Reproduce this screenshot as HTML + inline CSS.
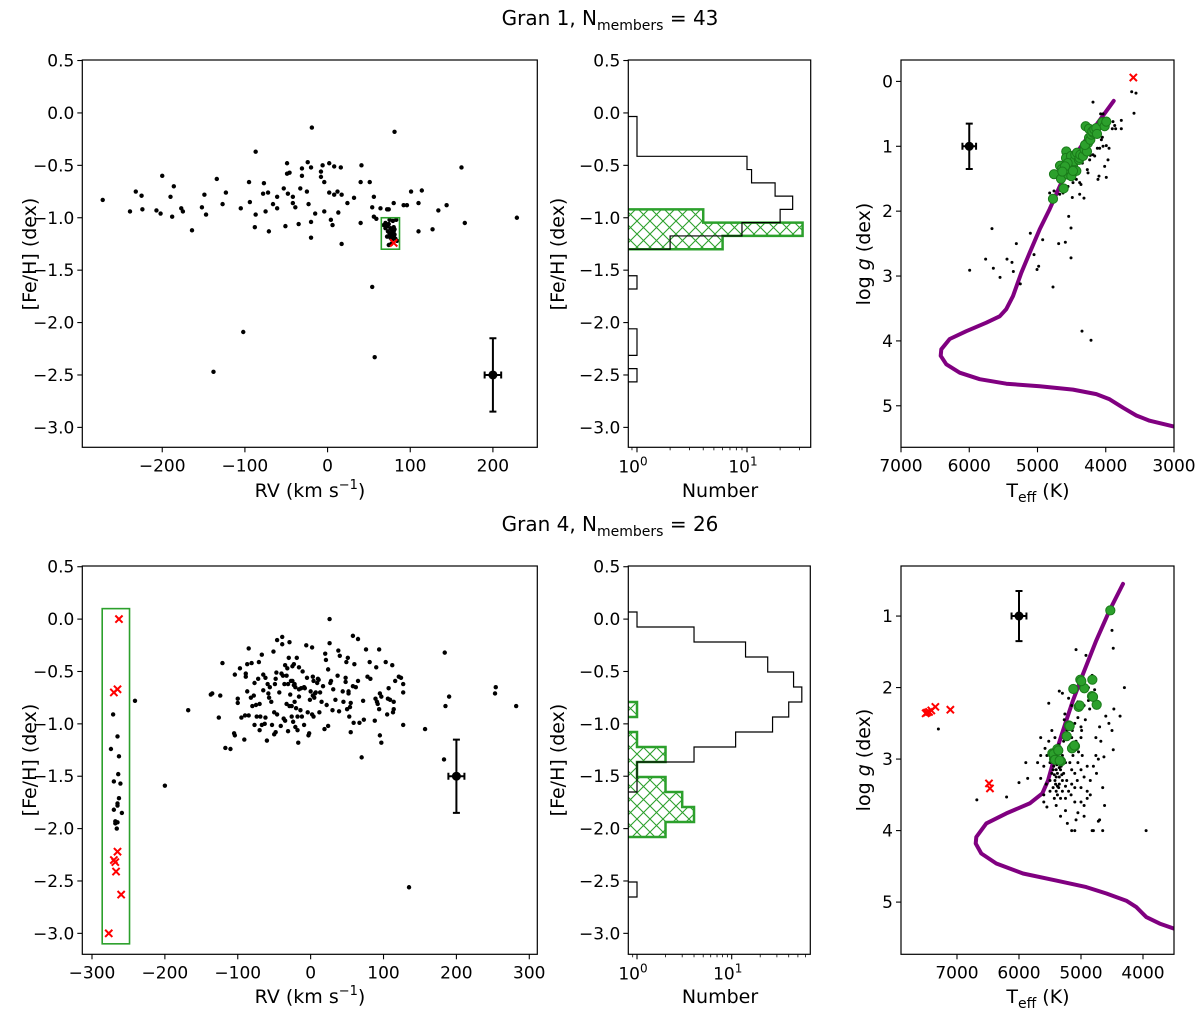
<!DOCTYPE html>
<html><head><meta charset="utf-8">
<style>
html,body{margin:0;padding:0;background:#fff;}
svg{display:block;font-family:"DejaVu Sans","Liberation Sans",sans-serif;}
</style></head>
<body>
<svg id="fig" width="1200" height="1010" viewBox="0 0 1200 1010" xmlns="http://www.w3.org/2000/svg">
<defs>
<pattern id="hatch" patternUnits="userSpaceOnUse" width="13" height="13">
<path d="M0,0 L13,13 M13,0 L0,13 M-1,12 L1,14 M12,-1 L14,1" stroke="#2ca02c" stroke-width="1.1" fill="none"/>
</pattern>
</defs>
<text x="610" y="25" text-anchor="middle" font-size="20">Gran 1, N<tspan font-size="14" dy="5">members</tspan><tspan dy="-5"> = 43</tspan></text>
<text x="610" y="531" text-anchor="middle" font-size="20">Gran 4, N<tspan font-size="14" dy="5">members</tspan><tspan dy="-5"> = 26</tspan></text>
</svg>
<script>
// ===== DATA: Gran 1 =====
const g1RV = [-272,-239,-232,-225,-224,-207,-202,-200,-190,-188,-186,-177,-175,-164,-152,-149,-147,-134,-127,-123,-105,-95,-94,-87,-87,-88,-78,-77,-75,-72,-71,-66,-61,-61,-53,-51,-49,-49,-48,-46,-42,-42,-39,-35,-33,-31,-31,-25,-24,-23,-20,-20,-20,-19,-15,-8,-8,-6,-4,-4,2,2,4,6,8,8,12,13,16,17,17,24,32,40,40,41,51,54,54,56,56,57,59,64,72,74,80,81,92,96,101,110,110,114,127,134,144,162,166,229,-102,-138,
70,72,74,76,78,80,73,75,77,79,81,76,78,80,82,74,77,70,83,79,84,72,81,75,68,78,80];
const g1Fe = [-0.83,-0.94,-0.75,-0.79,-0.92,-0.93,-0.96,-0.60,-0.80,-0.99,-0.70,-0.91,-0.94,-1.12,-0.90,-0.78,-0.97,-0.63,-0.87,-0.76,-0.91,-0.66,-0.85,-0.37,-0.97,-1.09,-0.77,-0.67,-0.94,-0.76,-1.13,-0.87,-0.80,-0.91,-0.72,-1.08,-0.48,-0.58,-0.77,-0.57,-0.80,-0.86,-0.90,-1.06,-0.72,-0.60,-0.53,-0.75,-0.47,-0.87,-0.52,-1.04,-1.19,-0.14,-0.96,-0.56,-0.61,-0.50,-0.66,-0.94,-0.48,-0.76,-1.02,-1.07,-0.51,-0.78,-0.75,-0.95,-0.52,-0.78,-1.25,-0.86,-0.81,-1.05,-0.66,-0.50,-0.66,-1.66,-0.90,-0.80,-0.99,-2.33,-1.01,-0.91,-0.92,-0.92,-0.86,-0.18,-0.88,-0.88,-0.75,-1.13,-0.86,-0.74,-1.11,-0.93,-0.88,-0.52,-1.05,-1.00,-2.09,-2.47,
-1.05,-1.08,-1.06,-1.10,-1.12,-1.09,-1.13,-1.15,-1.17,-1.14,-1.16,-1.19,-1.21,-1.18,-1.20,-1.26,-1.25,-1.10,-1.02,-1.03,-1.22,-1.18,-1.11,-1.02,-1.07,-1.15,-1.13];
const g1RejRV = [80];
const g1RejFe = [-1.24];
const g1Box = [65, 87, -1.30, -1.00];
const g1HistStart = -0.034;
const g1HistWidth = 0.1266;
const g1HistAll = [1,1,1,10,11,18,26,20,9,2,0,0,1,0,0,0,1,1,0,1];
const g1HistMem = [0,0,0,0,0,0,0,4,32,6];
const g1StarT = [5994,5667,5760,5647,5549,5447,5374,5354,5310,5252,5105,5051,5007,4983,4924,4773,4690,4592,4543,4509,4509,4348,4216,4822,4758,4675,4490,4382,4319,4382,4363,4260,4270,4226,4187,4114,4099,3992,4016,4123,4089,4040,3992,3952,3967,4064,4050,4187,4075,4040,3894,3869,3855,3904,3772,3772,3620,3557,3586,4294,4431,4343,4236,4162,4480,4553,4626,4431];
const g1StarG = [2.91,2.27,2.74,2.88,3.02,2.74,2.79,2.93,2.50,3.12,2.34,2.67,2.90,2.85,2.44,3.17,2.50,2.48,2.08,2.26,2.72,3.85,3.99,1.72,1.69,1.74,1.79,1.74,1.80,1.56,1.59,1.41,1.36,1.14,1.13,1.51,1.46,1.48,1.31,1.03,1.03,1.00,0.99,1.03,1.21,0.90,0.86,0.32,0.50,0.50,0.62,0.68,0.73,0.73,0.60,0.73,0.16,0.18,0.49,1.15,1.28,1.26,1.21,1.15,1.56,1.62,1.72,1.51];
const g1MemT = [4773,4758,4617,4656,4670,4641,4578,4582,4548,4519,4529,4504,4509,4480,4465,4446,4421,4392,4382,4372,4333,4309,4275,4260,4304,4245,4226,4211,4187,4294,4245,4197,4167,4138,4128,4050,4016,3992,4431,4480,4558,4597,4636];
const g1MemG = [1.81,1.43,1.65,1.50,1.30,1.35,1.08,1.18,1.44,1.26,1.36,1.46,1.15,1.31,1.23,1.13,1.10,1.21,1.18,1.13,1.15,1.05,1.08,0.95,0.98,0.87,0.90,0.82,0.79,0.69,0.73,0.77,0.74,0.72,0.81,0.63,0.69,0.62,1.38,1.38,1.26,1.31,1.39];
const g1RejT = [3596];
const g1RejG = [-0.06];
const g1IsoT = [3884,4187,4480,4675,4822,4968,5115,5237,5359,5457,5554,5750,6043,6287,6409,6419,6336,6140,5847,5457,4968,4480,4138,3943,3747,3552,3357,3000];
const g1IsoG = [0.30,0.74,1.18,1.62,1.97,2.28,2.64,2.95,3.31,3.51,3.62,3.72,3.85,3.97,4.13,4.23,4.36,4.49,4.59,4.66,4.70,4.75,4.82,4.90,5.03,5.15,5.23,5.32];

// ===== DATA: Gran 4 =====
const g4RV = [-271,-274,-265,-263,-264,-270,-261,-263,-265,-265,-270,-259,-268,-265,-268,-266,-241,-200,-168,135,184,190,185,183,157,253,254,282,70,26,
-137,-135,-124,-121,-126,-117,-110,-105,-104,-104,-100,-100,-97,-95,-91,-90,-89,-89,-87,-87,-85,-85,-81,-82,-80,-78,-77,-77,-75,-74,-72,-71,-70,-70,-69,-67,-67,-65,-65,-63,-62,-62,-60,-59,-58,-57,-56,-54,-53,-51,-50,-50,-49,-48,-48,-47,-46,-46,-43,-41,-40,-39,-39,-38,-37,-36,-35,-35,-33,-33,-32,-31,-31,-30,-29,-29,-28,-27,-26,-26,-25,-25,-24,-23,-23,-22,-22,-21,-21,-20,-19,-18,-18,-17,-16,-16,-16,-14,-13,-12,-11,-9,-9,-8,-6,-5,-4,-3,-2,-1,0,2,2,3,3,4,4,5,6,7,9,10,11,12,13,15,17,19,20,21,22,24,24,26,27,28,30,31,34,37,38,39,40,44,45,48,48,49,50,51,52,52,53,54,55,55,58,58,59,60,62,65,65,67,72,73,76,78,81,82,88,89,90,91,92,94,94,95,95,97,97,103,105,106,107,109,112,113,114,114,116,121,124,127,127,127];
const g4Fe = [-0.91,-1.24,-1.12,-1.31,-1.48,-1.55,-1.57,-1.71,-1.76,-1.78,-1.82,-1.85,-1.93,-1.94,-1.95,-2.00,-0.78,-1.59,-0.87,-2.56,-0.32,-0.74,-0.83,-1.34,-1.05,-0.71,-0.65,-0.83,-1.32,0.00,
-0.72,-0.71,-0.73,-0.42,-0.94,-1.23,-1.24,-1.09,-1.11,-0.53,-0.76,-0.80,-0.47,-0.94,-1.15,-0.92,-0.52,-0.55,-0.43,-0.69,-0.28,-0.92,-0.42,-0.75,-0.83,-0.73,-0.61,-1.01,-0.82,-0.93,-0.57,-0.41,-1.06,-0.81,-0.93,-0.34,-1.01,-0.53,-0.68,-1.00,-0.94,-0.56,-1.16,-0.62,-0.71,-0.75,-0.65,-0.79,-1.01,-0.31,-0.89,-1.10,-0.62,-1.08,-0.57,-0.51,-0.20,-0.91,-0.70,-1.02,-0.52,-0.24,-0.17,-0.54,-0.95,-0.62,-0.97,-0.44,-0.54,-0.81,-0.47,-1.07,-0.62,-0.37,-0.22,-0.83,-0.72,-0.59,-0.93,-0.83,-0.45,-0.59,-0.98,-0.43,-0.63,-0.79,-0.62,-0.65,-1.03,-0.85,-0.37,-1.06,-0.93,-1.18,-0.46,-0.74,-0.67,-0.87,-0.66,-0.93,-0.50,-0.65,-1.01,-0.66,-0.25,-0.56,-0.89,-1.11,-1.09,-0.77,-0.69,-0.27,-0.91,-0.55,-0.73,-0.93,-0.59,-0.75,-0.71,-0.70,-0.61,-0.57,-0.58,-0.89,-0.70,-0.79,-0.64,-1.05,-0.33,-0.39,-0.82,-0.48,-1.02,-0.23,-0.61,-0.59,-0.87,-0.67,-0.77,-0.54,-0.30,-0.88,-0.35,-0.69,-0.79,-0.60,-0.56,-0.41,-0.86,-0.37,-0.69,-0.71,-0.93,-0.84,-0.80,-1.08,-0.64,-0.16,-0.99,-0.43,-0.65,-0.19,-0.59,-0.99,-0.78,-0.96,-0.29,-0.55,-0.41,-0.57,-0.97,-0.76,-0.46,-0.79,-0.81,-0.29,-0.86,-0.71,-1.11,-1.18,-0.74,-0.41,-0.91,-0.76,-0.66,-0.77,-0.44,-0.89,-0.86,-0.79,-0.59,-0.55,-0.56,-1.01,-0.62,-0.70];
const g4RejRV = [-263,-270,-265,-265,-270,-268,-267,-260,-277];
const g4RejFe = [0.0,-0.70,-0.67,-2.22,-2.30,-2.32,-2.41,-2.63,-3.0];
const g4Box = [-286, -248.5, -3.10, 0.10];
const g4HistStart = 0.068;
const g4HistWidth = 0.1432;
const g4HistAll = [1,4,14,24,45,55,40,27,11,4,1,1,0,0,0,0,0,0,1];
const g4HistMem = [0,0,0,0,0,0,1,0,1,2,1,2,3,4,2];
const g4StarT = [7300,6680,6200,6000,5860,5890,4480,4370,4300,3950,4500,4480,4800,4820,4920,5080,4780,4860,4600,4550,4500,4470,4700,4680,4630,4760,4720,4650,4620,4700,4720,4800,4820,4650,4900,4950,5000,4950,5100,5080,5050,5250,5330,5400,5550,5600,5650,5700,5650,5520,5350,5300,5200,5150,5260,5270,5230,5100,5050,5000,4990,5000,5040,4980,4900,4850,4900,4950,5000,5050,5100,5150,5200,5250,5300,5350,5400,5450,5500,5550,5600,5500,5450,5380,5320,5280,5230,5180,5130,5360,5420,5470,5400,5380,5350,5330,5300,5420,5440,5460,5520,5580,5650,5560,5600,5200,5150,5080,5160,5100,5060,5000,5220,5150,5100,4880,4880,4760,4800,4850,4750,5380,5400,5410,5360,5250,5300,5470,5420,5360,5280,5200,5140,5250,5330,5430,5500,5150,5050,4950,4930,5430,5390,5350,5310];
const g4StarG = [2.58,3.57,3.53,3.33,3.27,3.05,2.87,2.40,2.00,4.00,1.20,1.45,1.85,1.83,1.55,1.47,2.03,2.30,2.40,2.50,2.60,2.30,2.55,2.75,2.97,2.70,3.00,3.40,3.65,3.85,3.87,4.00,4.00,4.00,3.55,3.65,3.60,3.80,3.60,3.85,3.75,3.72,3.80,3.65,3.67,3.50,3.27,3.05,2.95,2.22,2.05,2.08,2.15,2.25,2.37,2.45,2.60,2.50,2.42,2.55,2.60,2.70,2.90,2.95,3.10,3.30,3.45,3.25,3.15,3.05,3.20,3.35,3.45,3.55,3.45,3.35,3.25,3.15,3.05,2.95,3.10,3.30,3.40,3.50,3.10,3.20,3.30,3.05,2.95,3.00,3.05,3.20,3.15,3.20,3.25,3.15,3.30,3.30,3.10,2.90,2.75,2.85,2.70,3.35,3.60,2.85,2.70,2.75,3.50,3.40,3.30,3.40,3.90,4.00,4.00,2.00,2.18,2.95,3.10,3.50,3.20,3.38,3.45,3.35,3.40,3.05,2.95,2.60,2.70,2.80,2.75,2.55,2.60,3.38,3.55,3.55,3.45,3.15,2.20,2.25,2.45,3.22,3.08,3.12,3.22];
const g4MemT = [4527,5011,4817,5124,4946,4823,5038,4747,5193,5231,5129,5097,5145,5462,5382,5435,5323,5441,5366,5107,5183,5021,4806,4995,5419,5344];
const g4MemG = [0.92,1.89,1.89,2.02,2.01,2.12,2.27,2.24,2.53,2.68,2.83,2.82,2.85,2.92,2.86,3.00,3.03,2.93,2.88,2.81,2.54,2.25,2.13,1.91,3.01,3.02];
const g4RejT = [7484,7451,7414,7349,7107,6484,6468,7505];
const g4RejG = [2.35,2.34,2.32,2.27,2.31,3.34,3.41,2.36];
const g4IsoT = [4323,4538,4753,4968,5129,5290,5425,5532,5624,5828,6204,6527,6688,6699,6608,6366,5935,5398,4914,4591,4269,4108,3946,3731,3500];
const g4IsoG = [0.55,0.92,1.34,1.81,2.18,2.60,2.97,3.30,3.48,3.62,3.76,3.90,4.09,4.18,4.32,4.46,4.60,4.70,4.79,4.88,4.98,5.07,5.21,5.30,5.37];

// ===== tick labels =====
const feTicks = [0.5,0.0,-0.5,-1.0,-1.5,-2.0,-2.5,-3.0];
const rvTicks1 = [-200,-100,0,100,200];
const rvTicks4 = [-300,-200,-100,0,100,200,300];
const teffTicks1 = [7000,6000,5000,4000,3000];
const teffTicks4 = [7000,6000,5000,4000];
const loggTicks1 = [0,1,2,3,4,5];
const loggTicks4 = [1,2,3,4,5];

const NS = "http://www.w3.org/2000/svg";
const svg = document.getElementById('fig');
const TICK_FS = 17, LABEL_FS = 19;
let clipN = 0;
function mk(tag, attrs, parent){ const e=document.createElementNS(NS,tag); for(const k in attrs) e.setAttribute(k,attrs[k]); (parent||svg).appendChild(e); return e; }
function fmtNum(v, dec){ const s = dec ? Math.abs(v).toFixed(dec) : String(Math.abs(v)); return (v<0?'\u2212':'')+s; }

function makeAxes(name, x0,x1,y0,y1, xd, yd, xlog){
  const sx = v => { const t = xlog ? Math.log10(v) : v; return x0 + (t-xd[0])/(xd[1]-xd[0])*(x1-x0); };
  const sy = v => y0 + (v-yd[0])/(yd[1]-yd[0])*(y1-y0);
  const g = mk('g',{});
  
  
  const id = 'clip'+(clipN++);
  const cp = mk('clipPath',{id:id}, g); mk('rect',{x:x0,y:y0,width:x1-x0,height:y1-y0},cp);
  const plot = mk('g',{'clip-path':'url(#'+id+')'}, g);
  
  
  return {g, plot, sx, sy, x0,x1,y0,y1};
}
function frame(ax){
  const r = mk('rect',{x:ax.x0,y:ax.y0,width:ax.x1-ax.x0,height:ax.y1-ax.y0,fill:'none',stroke:'#000','stroke-width':1.2}, ax.g);
  
  
}
function yTicks(ax, vals, labelFn){
  vals.forEach(v=>{ const y=ax.sy(v);
    mk('line',{x1:ax.x0-5,x2:ax.x0,y1:y,y2:y,stroke:'#000','stroke-width':1.1},ax.g);
    const t=mk('text',{x:ax.x0-8,y:y+6,'text-anchor':'end','font-size':TICK_FS},ax.g); t.textContent=labelFn(v);
    
    
  });
}
function xTicks(ax, vals, labelFn){
  vals.forEach(v=>{ const x=ax.sx(v);
    mk('line',{x1:x,x2:x,y1:ax.y1,y2:ax.y1+5,stroke:'#000','stroke-width':1.1},ax.g);
    const t=mk('text',{x:x,y:ax.y1+24,'text-anchor':'middle','font-size':TICK_FS},ax.g); t.textContent=labelFn(v);
    
    
  });
}
function logXTicks(ax){
  [1,10].forEach((v,i)=>{ const x=ax.sx(v);
    mk('line',{x1:x,x2:x,y1:ax.y1,y2:ax.y1+5,stroke:'#000','stroke-width':1.1},ax.g);
    const t=mk('text',{x:x-4,y:ax.y1+25,'text-anchor':'middle','font-size':TICK_FS},ax.g);
    t.textContent='10';
    const s=mk('tspan',{'font-size':12,dy:-7},t); s.textContent=String(i);
    
    
  });
  const minors=[0.9,2,3,4,5,6,7,8,9,20,30,40,50,60,70];
  minors.forEach(v=>{ const x=ax.sx(v); if(x<ax.x0||x>ax.x1) return;
    mk('line',{x1:x,x2:x,y1:ax.y1,y2:ax.y1+3,stroke:'#000','stroke-width':0.8},ax.g); });
}
function label(txt, x, y, rot, name, extra){
  const t=mk('text',{x:x,y:y,'text-anchor':'middle','font-size':LABEL_FS});
  if(rot) t.setAttribute('transform','rotate(-90 '+x+' '+y+')');
  
  
  if(extra) extra(t); else t.textContent=txt;
  return t;
}
function dots(ax, xs, ys, r, name){
  xs.forEach((v,i)=>{ const c=mk('circle',{cx:ax.sx(v),cy:ax.sy(ys[i]),r:r,fill:'#000'},ax.plot);
    
     });
}
function members(ax, xs, ys, name){
  xs.forEach((v,i)=>{ const c=mk('circle',{cx:ax.sx(v),cy:ax.sy(ys[i]),r:4.6,fill:'#2ca02c',stroke:'#1a7a1a','stroke-width':1},ax.plot);
    
     });
}
function crosses(ax, xs, ys, name){
  xs.forEach((v,i)=>{ const x=ax.sx(v), y=ax.sy(ys[i]), d=3.6;
    const p=mk('path',{d:`M${x-d},${y-d}L${x+d},${y+d}M${x+d},${y-d}L${x-d},${y+d}`,stroke:'#ff0000','stroke-width':2,fill:'none'},ax.plot);
    
     });
}
function errbar(ax, x, y, ex, ey, name){
  const g=mk('g',{stroke:'#000','stroke-width':2,fill:'none'},ax.plot);
  
  
  const X=ax.sx(x),Y=ax.sy(y),xa=ax.sx(x-ex),xb=ax.sx(x+ex),ya=ax.sy(y-ey),yb=ax.sy(y+ey);
  mk('path',{d:`M${X},${ya}L${X},${yb}M${X-3.5},${ya}L${X+3.5},${ya}M${X-3.5},${yb}L${X+3.5},${yb}M${xa},${Y}L${xb},${Y}M${xa},${Y-3.5}L${xa},${Y+3.5}M${xb},${Y-3.5}L${xb},${Y+3.5}`},g);
  mk('circle',{cx:X,cy:Y,r:4.5,fill:'#000',stroke:'none'},g);
}
function box(ax, b, name){
  const xa=ax.sx(b[0]),xb=ax.sx(b[1]),ya=ax.sy(b[3]),yb=ax.sy(b[2]);
  const r=mk('rect',{x:xa,y:ya,width:xb-xa,height:yb-ya,fill:'none',stroke:'#2ca02c','stroke-width':1.6},ax.plot);
  
  
}
function iso(ax, xs, ys, name){
  const d = xs.map((v,i)=>(i?'L':'M')+ax.sx(v).toFixed(1)+','+ax.sy(ys[i]).toFixed(1)).join('');
  const p=mk('path',{d:d,fill:'none',stroke:'#800080','stroke-width':4,'stroke-linejoin':'round','stroke-linecap':'round'},ax.plot);
  
  
}
function stepPath(ax, start, w, counts, close){
  const xl = ax.x0 - 2;
  let d = `M${xl},${ax.sy(start)}`;
  counts.forEach((c,i)=>{ const xc = c>0 ? ax.sx(c) : xl; const ya=ax.sy(start-i*w), yb=ax.sy(start-(i+1)*w);
    d += `L${xc},${ya}L${xc},${yb}`; });
  d += `L${xl},${ax.sy(start-counts.length*w)}`;
  if(close) d+='Z';
  return d;
}
function hist(ax, start, w, all, mem, prefix){
  const gp=mk('path',{d:stepPath(ax,start,w,mem,true),fill:'url(#hatch)',stroke:'#2ca02c','stroke-width':2.5,'stroke-linejoin':'miter'},ax.plot);
  
  
  const bp=mk('path',{d:stepPath(ax,start,w,all,false),fill:'none',stroke:'#000','stroke-width':1.2},ax.plot);
  
  
}
const fe1 = v => fmtNum(v,1);
const intf = v => fmtNum(v,0);

function rvLabel(y){ label('',310,y,false,'x-axis-title-rv',t=>{ t.textContent='RV (km s'; const s=mk('tspan',{'font-size':13,dy:-8},t); s.textContent='\u22121'; const s2=mk('tspan',{dy:8},t); s2.textContent=')'; }); }
function teffLabel(x,y){ label('',x,y,false,'x-axis-title-teff',t=>{ t.textContent='T'; const s=mk('tspan',{'font-size':14,dy:5},t); s.textContent='eff'; const s2=mk('tspan',{dy:-5},t); s2.textContent=' (K)'; }); }
function loggLabel(x,y){ label('',x,y,true,'y-axis-title-logg',t=>{ t.textContent='log '; const s=mk('tspan',{'font-style':'italic'},t); s.textContent='g'; const s2=mk('tspan',{},t); s2.textContent=' (dex)'; }); }

// ===== Row 1 =====
const a1 = makeAxes('gran1-rv-feh-panel', 82.3,537.3,60,447.3,[-296.7,253.7],[0.505,-3.19],false);
dots(a1, g1RV, g1Fe, 2.2, 'star-point');
box(a1, g1Box, 'member-selection-box');
crosses(a1, g1RejRV, g1RejFe, 'rejected-star');
errbar(a1, 200, -2.5, 10, 0.35, 'typical-error-bar');
frame(a1); yTicks(a1, feTicks, fe1); xTicks(a1, rvTicks1, intf);
label('[Fe/H] (dex)',36,254,true,'y-axis-title-feh');
rvLabel(497);

const a2 = makeAxes('gran1-histogram-panel', 628.3,810.7,60,447.3,[-0.079,1.579],[0.505,-3.19],true);
hist(a2, g1HistStart, g1HistWidth, g1HistAll, g1HistMem, 'gran1');
frame(a2); yTicks(a2, feTicks, fe1); logXTicks(a2);
label('[Fe/H] (dex)',564,254,true,'y-axis-title-feh-hist');
label('Number',720,497,false,'x-axis-title-number');

const a3 = makeAxes('gran1-kiel-panel', 901,1174,60,447.3,[7000,3000],[-0.33,5.64],false);
iso(a3, g1IsoT, g1IsoG, 'isochrone');
dots(a3, g1StarT, g1StarG, 1.5, 'star-point');
members(a3, g1MemT, g1MemG, 'member-star');
crosses(a3, g1RejT, g1RejG, 'rejected-star');
errbar(a3, 6000, 1.0, 100, 0.35, 'typical-error-bar');
frame(a3); yTicks(a3, loggTicks1, intf); xTicks(a3, teffTicks1, intf);
loggLabel(870,254); teffLabel(1038,497);

// ===== Row 2 =====
const b1 = makeAxes('gran4-rv-feh-panel', 82.3,537.3,566,954.3,[-313.3,311],[0.507,-3.2],false);
dots(b1, g4RV, g4Fe, 2.2, 'star-point');
box(b1, g4Box, 'member-selection-box');
crosses(b1, g4RejRV, g4RejFe, 'rejected-star');
errbar(b1, 200, -1.5, 11, 0.35, 'typical-error-bar');
frame(b1); yTicks(b1, feTicks, fe1); xTicks(b1, rvTicks4, intf);
label('[Fe/H] (dex)',36,760,true,'y-axis-title-feh');
rvLabel(1003);

const b2 = makeAxes('gran4-histogram-panel', 628.3,810.3,566,954.3,[-0.092,1.83],[0.507,-3.2],true);
hist(b2, g4HistStart, g4HistWidth, g4HistAll, g4HistMem, 'gran4');
frame(b2); yTicks(b2, feTicks, fe1); logXTicks(b2);
label('[Fe/H] (dex)',564,760,true,'y-axis-title-feh-hist');
label('Number',720,1003,false,'x-axis-title-number');

const b3 = makeAxes('gran4-kiel-panel', 901,1174,566,954.3,[7903,3500],[0.30,5.73],false);
iso(b3, g4IsoT, g4IsoG, 'isochrone');
dots(b3, g4StarT, g4StarG, 1.5, 'star-point');
members(b3, g4MemT, g4MemG, 'member-star');
crosses(b3, g4RejT, g4RejG, 'rejected-star');
errbar(b3, 6000, 1.0, 120, 0.35, 'typical-error-bar');
frame(b3); yTicks(b3, loggTicks4, intf); xTicks(b3, teffTicks4, intf);
loggLabel(870,760); teffLabel(1038,1003);
</script>
</body></html>
